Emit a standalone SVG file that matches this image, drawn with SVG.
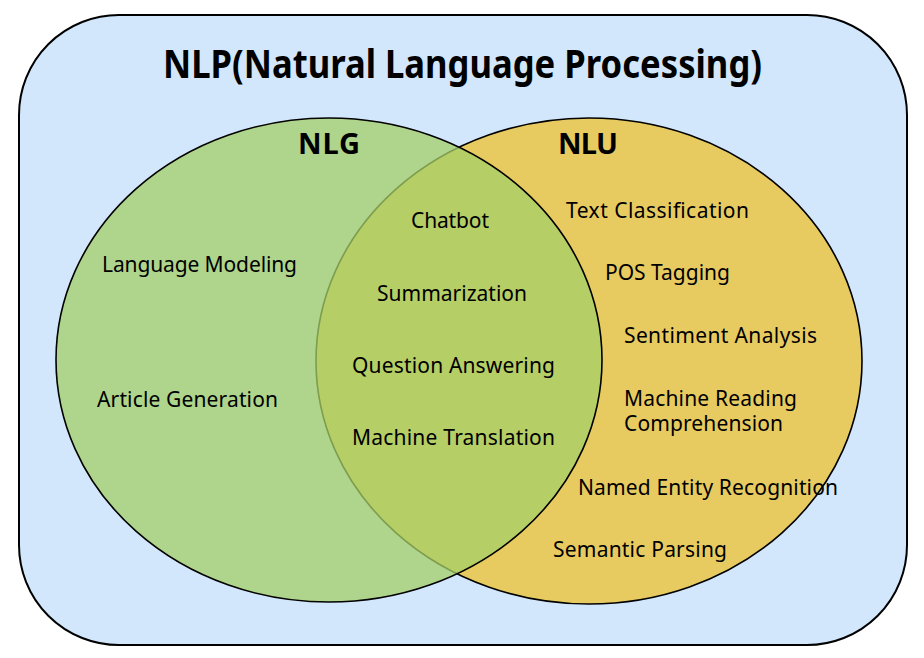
<svg xmlns="http://www.w3.org/2000/svg" width="924" height="658" viewBox="0 0 924 658">
<style>
.t{font-family:"Noto Sans","Open Sans","Liberation Sans",sans-serif;font-size:21px;fill:#000}
.h{font-family:"Noto Sans","Open Sans","Liberation Sans",sans-serif;font-weight:bold;fill:#000}
</style>
<rect width="924" height="658" fill="#ffffff"/>
<g id="nlp">
<rect x="19" y="15" width="888" height="630" rx="100" ry="100" fill="#D2E7FB" stroke="#000" stroke-width="2"/>
<text class="h" x="163" y="78" font-size="39" textLength="599" lengthAdjust="spacingAndGlyphs">NLP(Natural Language Processing)</text>
</g>
<g id="nlu">
<ellipse cx="589" cy="361" rx="273" ry="243" fill="#E8CB60" stroke="#000" stroke-width="1.6"/>
</g>
<g id="nlg">
<ellipse cx="329" cy="360" rx="273" ry="242" fill="#A4CF68" fill-opacity="0.76" stroke="none"/>
<path d="M 56 360 A 273 242 0 1 1 602 360 A 273 242 0 1 1 56 360 Z" fill="none" stroke="#000" stroke-width="1.6"/>
</g>
<g id="labels">
<text class="h" x="298" y="154" font-size="29" textLength="62">NLG</text>
<text class="h" x="558" y="154" font-size="29" textLength="60">NLU</text>
<text class="t" x="102" y="272" textLength="195">Language Modeling</text>
<text class="t" x="97" y="407" textLength="181">Article Generation</text>
<text class="t" x="411" y="228" textLength="78">Chatbot</text>
<text class="t" x="377" y="301" textLength="150">Summarization</text>
<text class="t" x="352" y="373" textLength="203">Question Answering</text>
<text class="t" x="352" y="445" textLength="203">Machine Translation</text>
<text class="t" x="566" y="218" textLength="183">Text Classification</text>
<text class="t" x="605" y="280" textLength="125">POS Tagging</text>
<text class="t" x="624" y="343" textLength="193">Sentiment Analysis</text>
<text class="t"><tspan x="624" y="406" textLength="173">Machine Reading</tspan><tspan x="624" y="431" textLength="159">Comprehension</tspan></text>
<text class="t" x="578" y="495" textLength="260">Named Entity Recognition</text>
<text class="t" x="553" y="557" textLength="174">Semantic Parsing</text>
</g>
</svg>
